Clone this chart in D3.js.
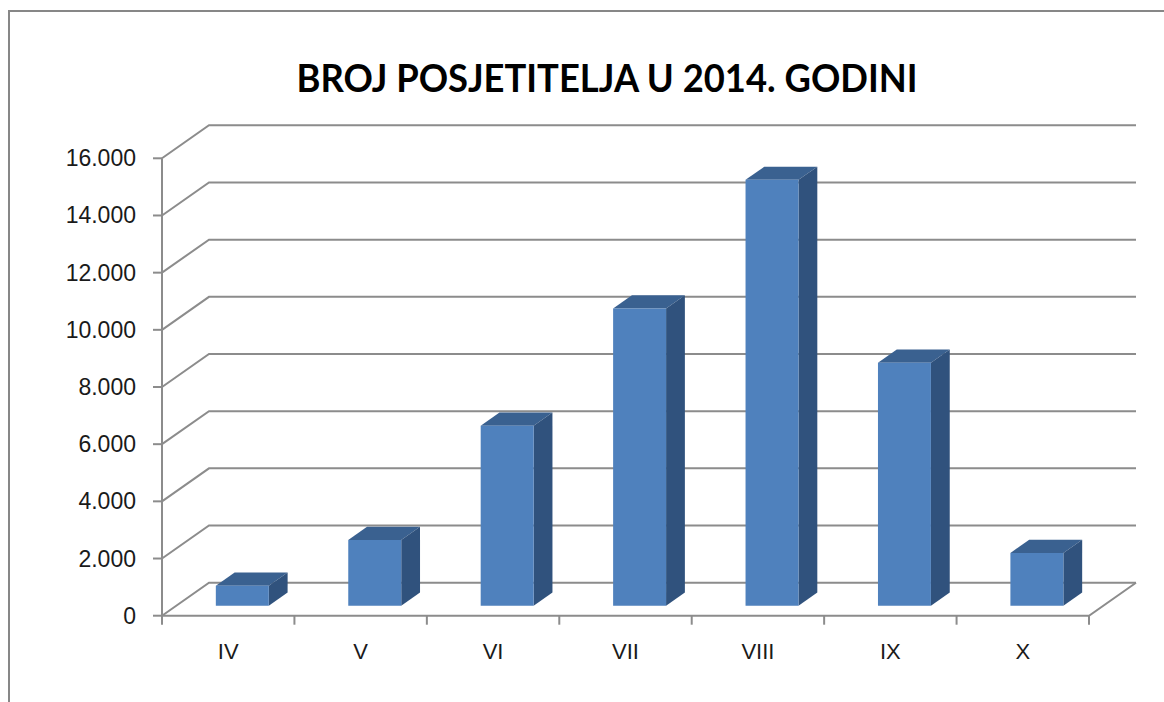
<!DOCTYPE html>
<html>
<head>
<meta charset="utf-8">
<script src="https://cdn.jsdelivr.net/npm/d3@7"></script>
<style>
  body { margin: 0; background: #fff; }
  svg { display: block; }
</style>
</head>
<body>
<svg id="chart" width="1164" height="702"></svg>
<script>
const title = 'BROJ POSJETITELJA U 2014. GODINI';
const months = ['IV','V','VI','VII','VIII','IX','X'];
const visitors = [700, 2300, 6300, 10400, 14900, 8500, 1850];
const yTicks = [0, 2000, 4000, 6000, 8000, 10000, 12000, 14000, 16000];

const svg = d3.select('#chart');
const W = 1164, H = 702;

// 3d offset of the back wall
const DX = 47, DY = -33;
const barZ = [0.3, 0.7]; // depth range of bars (0 = front, 1 = back)

const x = d3.scaleBand().domain(months).range([162, 1089])
	.paddingInner(0.6).paddingOuter(0.3);
const xAxisBand = d3.scaleBand().domain(months).range([162, 1089]);
const y = d3.scaleLinear().domain([0, 16000]).range([615.7, 158.3]);

const P = (px, z, v) => [px + DX*z, y(v) + DY*z];
const fmt = v => d3.format(',')(v).replace(/,/g, '.');
const grid = '#8c8c8c';

// outer border (right and bottom fall outside the picture)
svg.append('rect')
	.attr('x', 9).attr('y', 11)
	.attr('width', W + 20).attr('height', H + 20)
	.style('fill', 'none').style('stroke', '#878787').style('stroke-width', 2);

svg.append('text')
	.attr('x', 607).attr('y', 92)
	.attr('text-anchor', 'middle')
	.attr('textLength', 621).attr('lengthAdjust', 'spacingAndGlyphs')
	.style('font-family', 'Lato, "Open Sans", sans-serif')
	.style('font-weight', 'bold').style('font-size', '39px')
	.text(title);

// gridlines: diagonal on the left wall + along the back wall
const x0 = x.range()[0], x1 = xAxisBand.range()[1];
const gridG = svg.append('g').attr('class','grid');
gridG.selectAll('path')
	.data(yTicks)
	.enter()
	.append('path')
	.attr('d', d => {
		const a = P(x0, 0, d), b = P(x0, 1, d), c = P(x1, 1, d);
		return `M${a}L${b}L${c}`;
	})
	.style('fill','none').style('stroke', grid).style('stroke-width', 2);

// floor front edge and right diagonal
svg.append('path')
	.attr('d', `M${P(x0,0,0)}L${P(x1,0,0)}L${P(x1,1,0)}`)
	.style('fill','none').style('stroke', grid).style('stroke-width', 2);

// y axis
svg.append('line')
	.attr('x1', x0).attr('x2', x0)
	.attr('y1', y(16000)).attr('y2', y(0))
	.style('stroke', grid).style('stroke-width', 2);
const yAx = svg.append('g').selectAll('g')
	.data(yTicks).enter().append('g')
	.attr('transform', d => `translate(${x0},${y(d)})`);
yAx.append('line').attr('x1', -9).attr('x2', 0)
	.style('stroke', grid).style('stroke-width', 2);
yAx.append('text')
	.attr('x', -26).attr('dy', 8)
	.attr('text-anchor', 'end')
	.style('font-family', '"Liberation Sans", Arial, sans-serif')
	.style('font-size', '23px').style('fill', '#1a1a1a')
	.text(fmt);

// x axis ticks and labels
const xTicks = months.map(m => xAxisBand(m)).concat([x1]);
svg.append('g').selectAll('line')
	.data(xTicks).enter().append('line')
	.attr('x1', d => d).attr('x2', d => d)
	.attr('y1', y(0)).attr('y2', y(0) + 9)
	.style('stroke', grid).style('stroke-width', 2);
svg.append('g').selectAll('text')
	.data(months).enter().append('text')
	.attr('x', d => xAxisBand(d) + xAxisBand.bandwidth()/2)
	.attr('y', 659)
	.attr('text-anchor', 'middle')
	.style('font-family', '"Liberation Sans", Arial, sans-serif')
	.style('font-size', '22px').style('fill', '#1a1a1a')
	.text(d => d);

// bars
const bars = svg.append('g').selectAll('g')
	.data(months.map((m, i) => ({m, v: visitors[i]})))
	.enter().append('g');
const [zf, zb] = barZ;
bars.append('path') // top
	.attr('d', d => {
		const l = x(d.m), r = l + x.bandwidth();
		return `M${P(l,zf,d.v)}L${P(r,zf,d.v)}L${P(r,zb,d.v)}L${P(l,zb,d.v)}Z`;
	})
	.style('fill', '#3a6190');
bars.append('path') // side
	.attr('d', d => {
		const r = x(d.m) + x.bandwidth();
		return `M${P(r,zf,0)}L${P(r,zb,0)}L${P(r,zb,d.v)}L${P(r,zf,d.v)}Z`;
	})
	.style('fill', '#30527d');
bars.append('path') // front
	.attr('d', d => {
		const l = x(d.m), r = l + x.bandwidth();
		return `M${P(l,zf,0)}L${P(r,zf,0)}L${P(r,zf,d.v)}L${P(l,zf,d.v)}Z`;
	})
	.style('fill', '#4f81bd');
</script>
</body>
</html>
